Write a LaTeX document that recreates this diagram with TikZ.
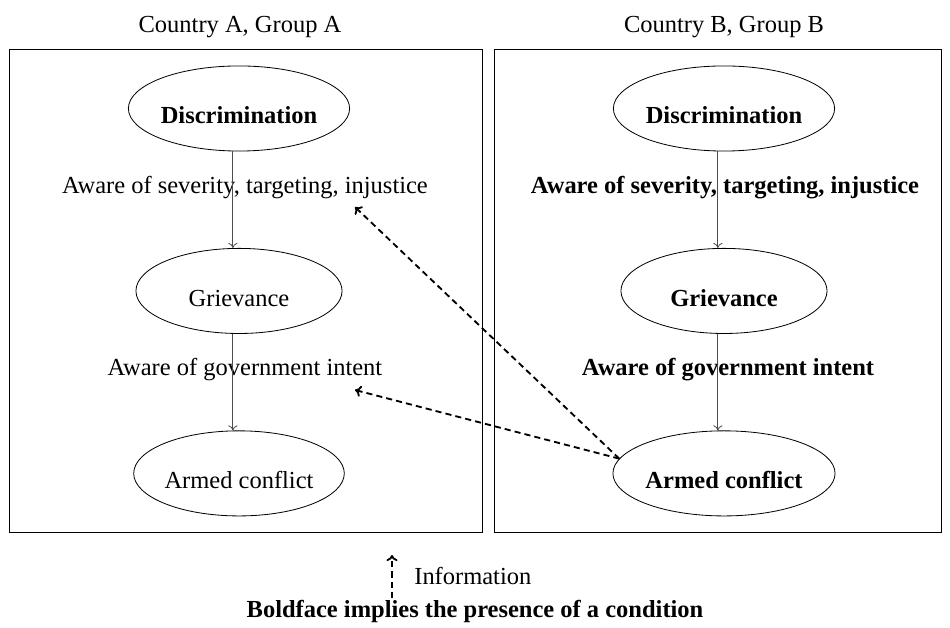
\documentclass[12pt,tikz,border=0pt]{standalone}
\usepackage{fontspec}
\setmainfont{Liberation Serif}
\usetikzlibrary{arrows.meta,positioning,calc,shapes.geometric}

\begin{document}
\begin{tikzpicture}[x=0.49pt,y=-0.49pt,node distance=47.3pt,
 ell/.style={draw,ellipse,minimum width=101pt,minimum height=41.7pt,inner sep=0pt,text height=15pt,text depth=0pt},
 grp/.style={draw,minimum height=236.7pt,inner sep=0pt},
 flow/.style={-{To[length=2.5pt,width=4.5pt]},draw=black!70},
 info/.style={-{To[length=3pt,width=5.5pt]},line width=0.9pt,dash pattern=on 3pt off 2pt}]
 \useasboundingbox (0,0) rectangle (950,628);
 % the two groups
 \node[grp,minimum width=231.8pt] (boxA) at (245.5,290.5) {};
 \node[grp,minimum width=219pt] (boxB) at (717.5,290.5) {};
 \node (ttlA) at (240,27) {Country A, Group A};
 \node (ttlB) at (724,27) {Country B, Group B};
 % country A
 \node[ell,font=\bfseries] (discA) at (239,108.5) {Discrimination};
 \node[ell,below=of discA] (grvA) {Grievance};
 \node[ell,below=of grvA] (armA) {Armed conflict};
 \node (sevA) at (245,188) {Aware of severity, targeting, injustice};
 \node (govA) at (245,370) {Aware of government intent};
 % country B
 \node[ell,font=\bfseries] (discB) at (724,108.5) {Discrimination};
 \node[ell,font=\bfseries,below=of discB] (grvB) {Grievance};
 \node[ell,font=\bfseries,below=of grvB] (armB) {Armed conflict};
 \node[font=\bfseries] (sevB) at (725,188) {Aware of severity, targeting, injustice};
 \node[font=\bfseries] (govB) at (728,370) {Aware of government intent};
 \draw[flow] ([xshift=-3pt]discA.south)--([xshift=-3pt]grvA.north); \draw[flow] ([xshift=-3pt]grvA.south)--([xshift=-3pt]armA.north);
 \draw[flow] ([xshift=-3pt]discB.south)--([xshift=-3pt]grvB.north); \draw[flow] ([xshift=-3pt]grvB.south)--([xshift=-3pt]armB.north);
 % information flow
 \coordinate (tipSev) at (355,207); \coordinate (tipGov) at (355,390);
 \draw[info] (armB.172)--(tipSev); \draw[info] (armB.172)--(tipGov);
 % legend
 \coordinate (legS) at (392,598); \coordinate (legE) at (392,555);
 \draw[info] (legS)--(legE) node[midway,right=6.5pt] (infoLbl) {Information};
 \node[font=\bfseries] (boldNote) at (475,611) {Boldface implies the presence of a condition};
\end{tikzpicture}
\end{document}
